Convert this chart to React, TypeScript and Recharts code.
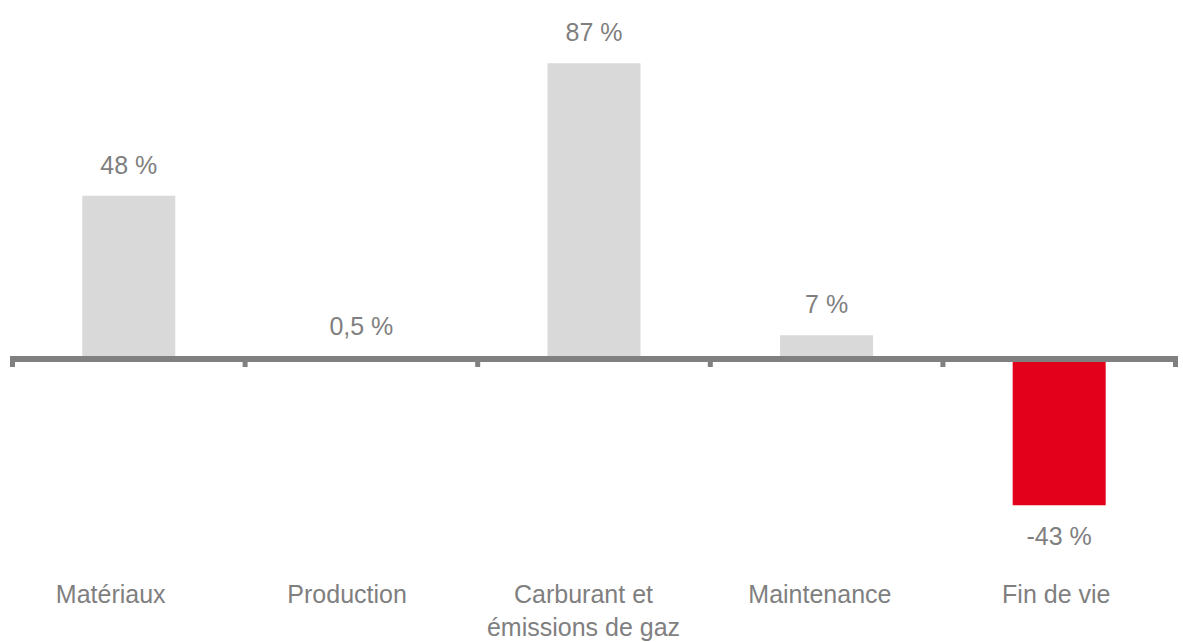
import React from 'react';
import { BarChart, Bar, XAxis, YAxis, ReferenceLine, LabelList, Cell } from 'recharts';

const categories = ['Matériaux', 'Production', 'Carburant et\némissions de gaz', 'Maintenance', 'Fin de vie'];
const values = [48, 0.5, 87, 7, -43];
const valueLabels = ['48 %', '0,5 %', '87 %', '7 %', '-43 %'];

const data = categories.map((c, i) => ({ name: c, value: values[i], label: valueLabels[i] }));

const FONT = '"Liberation Sans", Arial, sans-serif';
const TEXT = '#7f7f7f';
const AXIS = '#808080';
const GREY = '#d9d9d9';
const RED = '#e2001a';

const CategoryTick = (props: any) => {
  const { x, y, payload } = props;
  const lines = String(payload.value).split('\n');
  return (
    <text x={x} y={y} textAnchor="middle" fill={TEXT} fontSize={25} fontFamily={FONT}>
      {lines.map((l, i) => (
        <tspan key={i} x={x} dy={i === 0 ? 40 : 33}>{l}</tspan>
      ))}
    </text>
  );
};

const ValueLabel = (props: any) => {
  const { x, y, width, height, index } = props;
  const v = values[index];
  const cx = x + width / 2;
  const ty = v >= 0 ? Math.min(y, y + height) - 31 : Math.max(y, y + height) + 31;
  return (
    <text x={cx} y={ty} dy={9} textAnchor="middle" fill={TEXT} fontSize={25} fontFamily={FONT}>
      {valueLabels[index]}
    </text>
  );
};

const ZeroAxis = (props: any) => {
  const { x1, x2, y1 } = props;
  const n = categories.length;
  const step = (x2 - x1) / n;
  const ticks = Array.from({ length: n + 1 }, (_, i) => x1 + i * step);
  return (
    <g>
      <line x1={x1 - 2.5} x2={x2 + 2.5} y1={y1} y2={y1} stroke={AXIS} strokeWidth={6} />
      {ticks.map((tx, i) => (
        <line key={i} x1={tx} x2={tx} y1={y1} y2={y1 + 8} stroke={AXIS} strokeWidth={5} />
      ))}
    </g>
  );
};

export default function App() {
  return (
    <div style={{ position: 'absolute', left: 0, top: 0, background: '#fff' }}>
      <BarChart
        width={1183}
        height={642}
        data={data}
        margin={{ top: 19, right: 7.5, bottom: 0, left: 12.5 }}
        barCategoryGap="30%"
      >
        <XAxis xAxisId="bars" dataKey="name" hide height={0} />
        <XAxis
          xAxisId="labels"
          dataKey="name"
          axisLine={false}
          tickLine={false}
          tickSize={0}
          tickMargin={0}
          height={79}
          interval={0}
          padding={{ left: -20, right: 1 }}
          tick={<CategoryTick />}
        />
        <YAxis hide domain={[-60, 100]} allowDataOverflow />
        <Bar xAxisId="bars" dataKey="value" isAnimationActive={false}>
          {data.map((d, i) => (
            <Cell key={i} fill={d.value < 0 ? RED : GREY} />
          ))}
          <LabelList dataKey="label" content={<ValueLabel />} />
        </Bar>
        <ReferenceLine xAxisId="bars" y={0} shape={<ZeroAxis />} />
      </BarChart>
    </div>
  );
}
